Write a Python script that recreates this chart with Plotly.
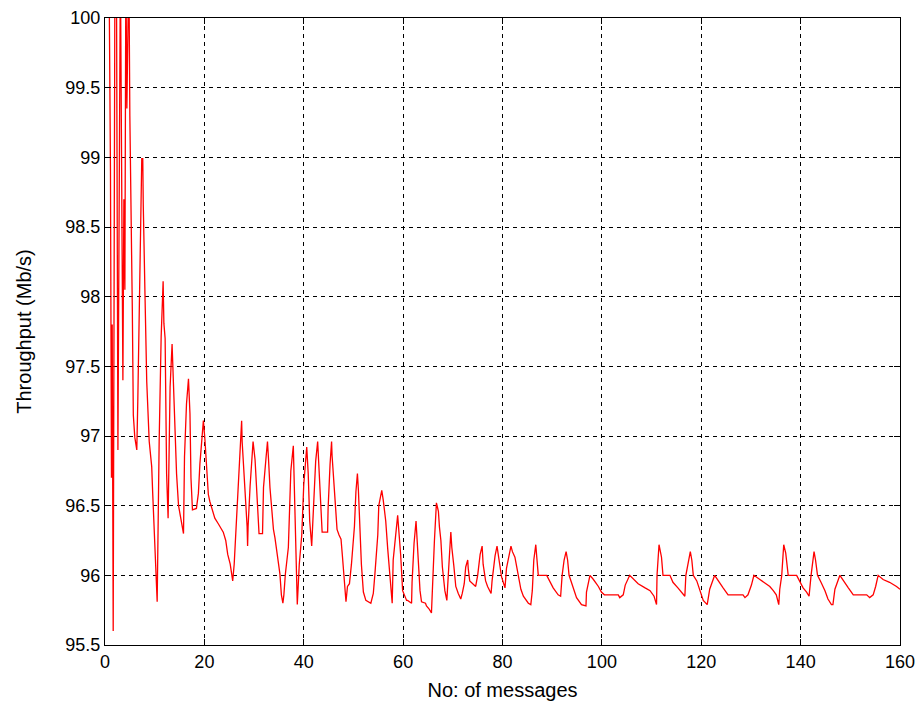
import plotly.graph_objects as go

# Number of messages (x) and throughput in Mb/s (y)
messages = [
    0.8, 1.1, 1.3, 1.45, 1.65, 2.0, 2.3, 2.6, 3.1, 3.3, 3.6, 3.8, 4.0, 4.2, 4.4, 4.8, 5.0,
    5.5, 5.7, 6.0, 6.4, 6.6, 6.9, 7.2, 7.4, 7.6, 7.7, 8.05, 8.4, 8.9,
    9.4, 9.6, 9.9, 10.0, 10.3, 10.5, 10.9, 11.3, 11.7, 11.85, 12.1, 12.4, 12.7,
    13.1, 13.5, 13.7, 14.1, 14.4, 14.8, 15.1, 15.8, 16.0, 16.4, 16.8, 17.1, 17.3,
    17.6, 18.4, 18.8, 19.1, 19.5, 19.8,
    20.1, 20.5, 20.8, 21.1, 21.6, 22.1, 22.8, 23.8, 24.3, 24.7, 25.2, 25.7, 26.0,
    26.3, 26.6, 27.0, 27.5, 27.6, 28.2, 28.6, 28.7, 28.8, 29.2, 29.8, 30.2, 30.5,
    30.7, 31.0, 31.7, 31.9, 32.4, 32.7, 32.9, 33.2, 33.9, 34.2, 35.2, 35.5, 35.8,
    36.0, 36.3, 36.9, 37.4, 37.9, 38.1, 38.4, 38.7, 39.1, 39.6, 40.0, 40.6,
    40.9, 41.2, 41.6, 41.9, 42.4, 42.8, 43.0, 43.3, 43.6, 43.7, 44.8, 44.9, 45.3,
    45.6, 45.7, 46.3, 46.7, 47.1, 47.5, 47.8, 48.2, 48.5, 48.8, 49.2, 49.6, 50.2,
    50.5, 50.8, 51.0, 51.3, 51.6, 52.0, 52.5, 53.5, 54.0, 54.3, 54.9, 55.1, 55.7,
    56.0, 56.5, 56.9, 57.3, 57.8, 58.0, 58.5, 58.9, 59.2, 59.5, 59.9, 60.7,
    60.9, 61.7, 61.8, 62.2, 62.6, 62.8, 63.0, 63.4, 63.7, 64.5, 64.7, 65.2, 65.7,
    65.9, 66.3, 66.7, 67.1, 67.3, 67.6, 67.9, 68.4, 68.8, 69.0, 69.3, 69.6, 69.8,
    70.2, 70.6, 71.1, 71.6, 71.9, 72.3, 72.6, 73.0, 73.1, 73.4, 74.6, 75.0, 75.5,
    75.9, 76.1, 76.6, 77.0, 77.7, 77.9, 78.5, 78.9, 79.3, 79.8, 80.5, 80.8,
    81.7, 82.0, 82.5, 83.2, 83.7, 84.2, 85.2, 85.7, 86.0, 86.3, 86.7, 86.9, 87.2,
    88.9, 89.5, 90.2, 91.2, 91.7, 92.0, 92.4, 92.8, 93.1, 93.4, 94.2, 94.9, 95.9,
    96.8, 96.9, 97.6, 98.3, 99.3, 99.9, 100.5, 103.3, 103.6, 104.3, 104.7, 105.6,
    106.4, 107.3, 108.7, 109.7, 110.5, 111.0, 111.1, 111.3, 111.5, 112.0, 112.3,
    113.7, 114.3, 115.3, 116.4, 116.7, 116.9, 117.4, 117.8, 118.1, 118.4, 119.1,
    119.6, 120.4, 121.2, 121.7, 122.7, 123.4, 124.4, 125.4, 128.4, 128.8, 129.4,
    130.1, 130.6, 131.8, 133.1, 133.8, 134.5, 135.1, 135.6, 135.8, 136.2, 136.6,
    137.0, 137.5, 139.2, 139.8, 140.5, 141.2, 141.7, 142.1, 142.4, 142.7, 143.0,
    143.4, 144.1, 144.9, 145.5, 146.2, 146.5, 146.9, 147.9, 148.6, 149.6, 150.6,
    153.3, 153.9, 154.6, 155.1, 155.6, 156.6, 157.9, 159.3, 160.0,
]
throughput = [
    100.4, 98.9, 96.7, 97.8, 95.6, 100.4, 100.4, 96.9, 100.4, 98.7, 97.4, 98.7, 98.05, 100.4, 99.35, 100.4, 99.3,
    97.9, 97.15, 96.99, 96.9, 97.25, 97.96, 98.63, 98.99, 98.99, 98.66, 98.01, 97.39, 96.96,
    96.78, 96.59, 96.33, 96.21, 96.02, 95.81, 96.96, 97.71, 98.11, 97.81, 97.7, 96.73, 96.41,
    97.35, 97.66, 97.47, 97.11, 96.73, 96.5, 96.43, 96.3, 96.85, 97.23, 97.41, 97.16, 96.7,
    96.47, 96.48, 96.59, 96.8, 96.99, 97.11,
    96.98, 96.72, 96.58, 96.53, 96.46, 96.41, 96.37, 96.31, 96.25, 96.15, 96.08, 95.96, 96.08,
    96.28, 96.5, 96.72, 97.11, 96.96, 96.64, 96.35, 96.21, 96.35, 96.64, 96.96, 96.83, 96.62,
    96.41, 96.3, 96.3, 96.63, 96.84, 96.96, 96.84, 96.63, 96.33, 96.27, 96.01, 95.86, 95.8,
    95.86, 96.01, 96.2, 96.75, 96.93, 96.64, 96.08, 95.79, 96.08, 96.29, 96.65, 96.92,
    96.73, 96.39, 96.21, 96.48, 96.82, 96.96, 96.82, 96.61, 96.42, 96.31, 96.31, 96.48, 96.8,
    96.96, 96.86, 96.51, 96.33, 96.29, 96.26, 96.13, 95.93, 95.81, 95.92, 95.94, 96.08, 96.35,
    96.6, 96.73, 96.61, 96.33, 96.08, 95.88, 95.82, 95.8, 95.87, 96.0, 96.29, 96.5, 96.61,
    96.54, 96.39, 96.19, 96.02, 95.8, 96.11, 96.31, 96.43, 96.29, 96.15, 95.89, 95.82,
    95.82, 95.8, 95.95, 96.23, 96.39, 96.26, 96.11, 95.89, 95.81, 95.8, 95.78, 95.76, 95.73,
    95.92, 96.25, 96.52, 96.46, 96.35, 96.25, 96.06, 95.89, 95.82, 95.92, 96.13, 96.31, 96.2,
    96.07, 95.92, 95.87, 95.83, 95.87, 95.94, 96.06, 96.11, 96.05, 95.96, 95.92, 96.0, 96.15,
    96.21, 96.08, 95.96, 95.92, 95.87, 95.96, 96.14, 96.21, 96.1, 95.99, 95.91, 96.05,
    96.21, 96.17, 96.13, 96.0, 95.9, 95.85, 95.8, 95.79, 95.89, 96.11, 96.22, 96.13, 96.0,
    96.0, 95.96, 95.91, 95.86, 95.85, 96.0, 96.11, 96.17, 96.11, 96.0, 95.92, 95.84, 95.79,
    95.78, 95.88, 96.0, 95.97, 95.92, 95.88, 95.86, 95.86, 95.84, 95.86, 95.93, 96.0,
    95.97, 95.94, 95.91, 95.89, 95.85, 95.79, 96.0, 96.13, 96.22, 96.13, 96.0,
    96.0, 95.95, 95.91, 95.86, 95.85, 96.0, 96.11, 96.17, 96.11, 96.0, 95.96,
    95.9, 95.82, 95.79, 95.9, 96.0, 95.96, 95.91, 95.86, 95.86, 95.84, 95.86,
    95.93, 96.0, 95.97, 95.94, 95.92, 95.89, 95.86, 95.79, 95.9, 96.0, 96.22,
    96.16, 96.0, 96.0, 95.96, 95.91, 95.88, 95.85, 96.0, 96.09, 96.17, 96.11,
    96.0, 95.95, 95.89, 95.83, 95.79, 95.79, 95.9, 96.0, 95.96, 95.91, 95.86,
    95.86, 95.84, 95.86, 95.92, 96.0, 95.97, 95.95, 95.92, 95.9,
]

x_ticks = [0, 20, 40, 60, 80, 100, 120, 140, 160]
y_ticks = [95.5, 96, 96.5, 97, 97.5, 98, 98.5, 99, 99.5, 100]
y_tick_labels = ["95.5", "96", "96.5", "97", "97.5", "98", "98.5", "99", "99.5", "100"]

FONT = "Liberation Sans, Arial, sans-serif"

fig = go.Figure()
fig.add_trace(go.Scatter(
    x=messages, y=throughput, mode="lines",
    line=dict(color="#ff0000", width=1.3),
    showlegend=False,
))

axis_common = dict(
    showline=True, linecolor="black", linewidth=1, mirror="ticks",
    ticks="inside", ticklen=6, tickcolor="black",
    showgrid=True, gridcolor="black", gridwidth=1, griddash="4px,4px",
    zeroline=False, automargin=False,
    tickfont=dict(family=FONT, size=18, color="black"),
)

fig.update_layout(
    width=920, height=711,
    margin=dict(l=105, r=20, t=18, b=66),
    paper_bgcolor="white", plot_bgcolor="white",
    font=dict(family=FONT, size=18, color="black"),
    xaxis=dict(
        range=[0, 160], tickvals=x_ticks,
        title=dict(text="No: of messages", font=dict(family=FONT, size=20), standoff=12),
        **axis_common,
    ),
    yaxis=dict(
        range=[95.5, 100], tickvals=y_ticks, ticktext=y_tick_labels,
        title=dict(text="Throughput (Mb/s)", font=dict(family=FONT, size=20), standoff=28),
        **axis_common,
    ),
)

fig.write_html("out.html")
